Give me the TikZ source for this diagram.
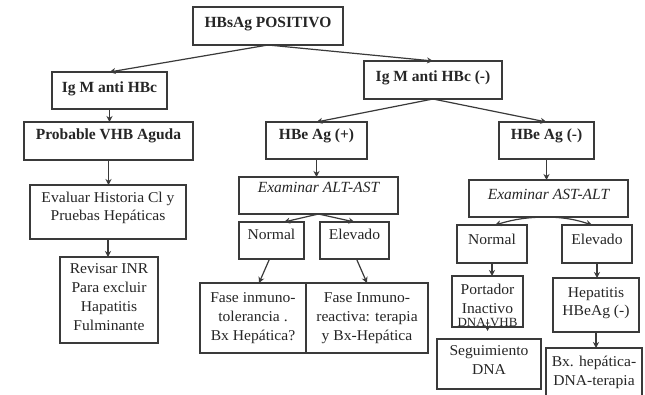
\documentclass[tikz,border=0pt]{standalone}
\usepackage{fontspec}
\setmainfont{Liberation Serif}
\newfontfamily\lowfont[FakeStretch=1.04]{Liberation Serif}
\usetikzlibrary{arrows.meta,calc}
\definecolor{ink}{HTML}{3A3A3A}
\definecolor{txtc}{HTML}{262626}
\newcommand\mkbox[5]{\node[box, minimum width={(#4-#2)*1pt}, minimum height={(#5-#3)*1pt}] (#1) at ({(#2+#4)/2},{(#3+#5)/2}) {};}
\begin{document}
\begin{tikzpicture}[x=1pt,y=-1pt,
  box/.style={draw=ink, line width=1.3pt, inner sep=0pt, outer sep=0pt},
  bt/.style={font=\fontsize{15.5}{19}\selectfont\bfseries, text=txtc, anchor=base, inner sep=0pt},
  rt/.style={font=\fontsize{15}{18.7}\selectfont\lowfont, text=txtc, anchor=base, inner sep=0pt, align=center},
  st/.style={font=\fontsize{12.5}{15}\selectfont\lowfont, text=txtc, anchor=base, inner sep=0pt},
  itx/.style={font=\fontsize{15.5}{19}\selectfont\itshape, text=txtc, anchor=base, inner sep=0pt},
  arr/.style={draw=ink, line width=1.2pt, -{Stealth[length=6pt,width=6pt]}}]
\useasboundingbox[fill=white] (0,0) rectangle (645,395);
% boxes
\mkbox{top}{193}{7}{343}{45}
\mkbox{igm}{52}{72}{167}{109}
\mkbox{igmn}{364}{61}{502}{99}
\mkbox{prob}{24}{122}{193}{160}
\mkbox{hbep}{266}{122}{367}{159}
\mkbox{hben}{499}{122}{594}{159}
\mkbox{exa}{239}{177}{398}{214}
\mkbox{exb}{469}{180}{628}{217}
\mkbox{eval}{30}{185}{186}{239}
\mkbox{rev}{60}{257}{158}{343}
\mkbox{na}{239}{222}{304}{259}
\mkbox{ea}{320}{222}{389}{259}
\mkbox{fa}{200}{283}{306}{353}
\mkbox{fb}{306}{283}{428}{353}
\mkbox{nb}{457}{225}{527}{263}
\mkbox{eb}{562}{225}{632}{263}
\mkbox{port}{452}{276}{523}{327}
\mkbox{seg}{437}{339}{541}{389}
\mkbox{hep}{553}{278}{639}{332}
\mkbox{bx}{546}{348}{642}{400}
% texts (multi-line texts: base = last line)
\node[bt] (t-top) at (268,28) {HBsAg POSITIVO};
\node[bt] (t-igm) at (109.5,93) {Ig M anti HBc};
\node[bt] (t-igmn) at (433,82) {Ig M anti HBc (-)};
\node[bt] (t-prob) at (108.5,140) {Probable VHB Aguda};
\node[bt] (t-hbep) at (316.5,140) {HBe Ag (+)};
\node[bt] (t-hben) at (546.5,140) {HBe Ag (-)};
\node[itx] (t-exa) at (318.5,193) {Examinar ALT-AST};
\node[itx] (t-exb) at (548.5,200) {Examinar AST-ALT};
\node[rt] (t-eval) at (108,221) {Evaluar Historia Cl y\\Pruebas Hepáticas};
\node[rt] (t-rev) at (109,330) {Revisar INR\\Para excluir\\Hapatitis\\Fulminante};
\node[rt] (t-na) at (271.5,240) {Normal};
\node[rt] (t-ea) at (354.5,240) {Elevado};
\node[rt] (t-fa) at (253,340) {Fase inmuno-\\tolerancia .\\Bx Hepática?};
\node[rt] (t-fb) at (367,340) {Fase Inmuno-\\reactiva: terapia\\y Bx-Hepática};
\node[rt] (t-nb) at (492,245) {Normal};
\node[rt] (t-eb) at (597,245) {Elevado};
\node[rt] (t-port) at (487.5,313) {Portador\\Inactivo};
\node[st] (t-port2) at (487.5,326) {DNA-VHB};
\node[rt] (t-seg) at (489,374) {Seguimiento\\DNA};
\node[rt] (t-hep) at (596,316) {Hepatitis\\HBeAg (-)};
\node[rt] (t-bx) at (594,385) {Bx. hepática-\\DNA-terapia};
% arrows
\draw[arr] (top.south) -- (igm.north);
\draw[arr] (top.south) -- (igmn.north);
\draw[arr] (igm.south) -- (igm.south |- prob.north);
\draw[arr] (prob.south) -- (prob.south |- eval.north);
\draw[arr] (eval.south) -- (eval.south |- rev.north);
\draw[arr] (igmn.south) -- (hbep.north);
\draw[arr] (igmn.south) -- (hben.north);
\draw[arr] (hbep.south) -- (hbep.south |- exa.north);
\draw[arr] (hben.south) -- (hben.south |- exb.north);
\draw[arr] (exa.south) -- ([xshift=-20pt]na.north east);
\draw[arr] (exa.south) -- (ea.north);
\draw[arr] ([xshift=-2pt]na.south) -- ([xshift=6pt]fa.north);
\draw[arr] ([xshift=2pt]ea.south) -- (fb.north);
\draw[arr] (exb.south) to[bend right=8] ([xshift=3pt]nb.north);
\draw[arr] (exb.south) to[bend left=8] ([xshift=-5pt]eb.north);
\draw[arr] (nb.south) -- (nb.south |- port.north);
\draw[arr] (eb.south) -- (eb.south |- hep.north);
\draw[arr] ([yshift=8pt]port.south) -- ([yshift=8pt]port.south |- seg.north);
\draw[arr] (hep.south) -- (hep.south |- bx.north);
\end{tikzpicture}
\end{document}
